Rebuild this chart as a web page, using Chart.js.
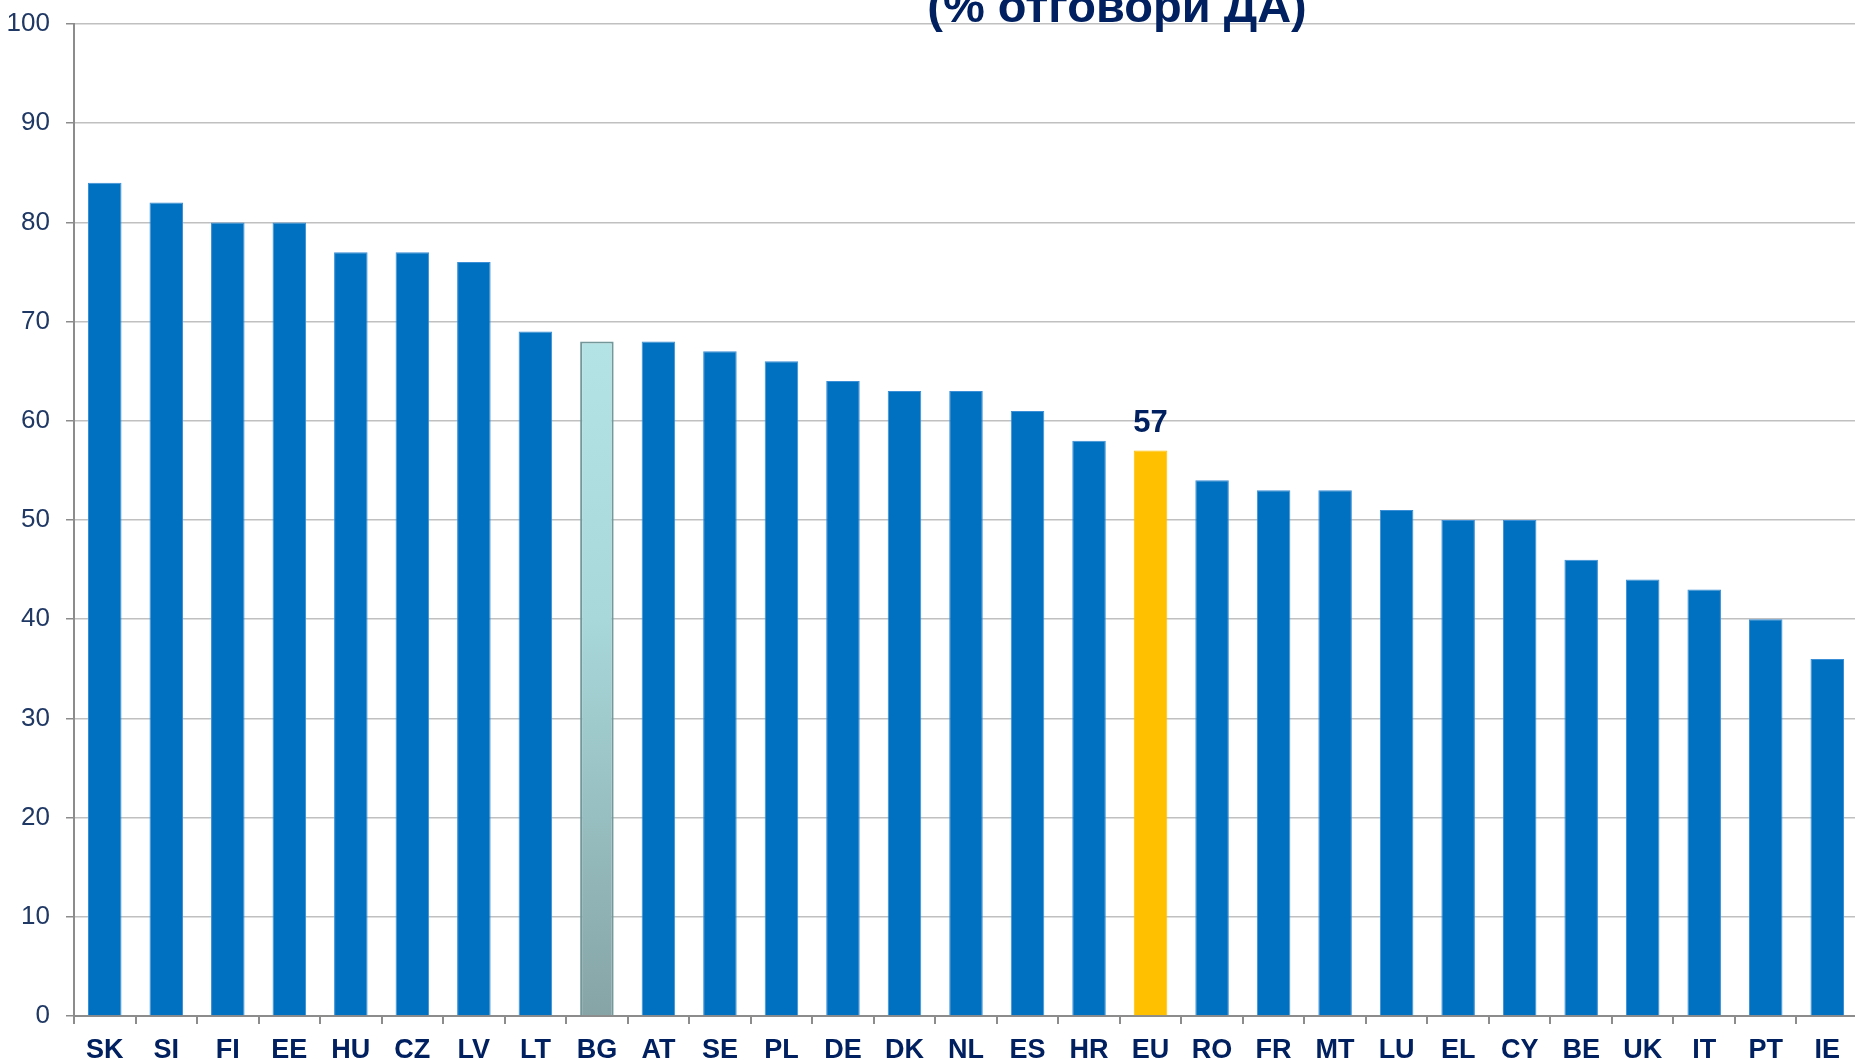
<!DOCTYPE html>
<html>
<head>
<meta charset="utf-8">
<script src="https://cdn.jsdelivr.net/npm/chart.js@4"></script>
<style>
    html, body { margin: 0; padding: 0; background: #fff; overflow: hidden; }
    #wrap { position: relative; width: 1858px; height: 1060px; }
</style>
</head>
<body>
<div id="wrap"><canvas id="barChart"></canvas></div>
<script>
/* global Chart */

const countries = ['SK', 'SI', 'FI', 'EE', 'HU', 'CZ', 'LV', 'LT', 'BG', 'AT', 'SE', 'PL', 'DE', 'DK', 'NL',
                   'ES', 'HR', 'EU', 'RO', 'FR', 'MT', 'LU', 'EL', 'CY', 'BE', 'UK', 'IT', 'PT', 'IE'];
const yesShare  = [84, 82, 80, 80, 77, 77, 76, 69, 68, 68, 67, 66, 64, 63, 63,
                   61, 58, 57, 54, 53, 53, 51, 50, 50, 46, 44, 43, 40, 36];
const yTicks    = [0, 10, 20, 30, 40, 50, 60, 70, 80, 90, 100];
const titleText = '(% отговори ДА)';
const labelled  = ['EU'];

const BLUE  = '#0070C0';
const GOLD  = '#FFC000';
const NAVY  = '#002060';
const FONT  = '"Liberation Sans", Arial, sans-serif';

function barFill(ctx) {
    const label = countries[ctx.dataIndex];
    if (label === 'EU') return GOLD;
    if (label === 'BG') {
        const area = ctx.chart.chartArea;
        if (!area) return '#a8d0d4';
        const g = ctx.chart.ctx.createLinearGradient(0, area.top, 0, area.bottom);
        g.addColorStop(0, '#c2f0f4');
        g.addColorStop(0.6, '#a8d8da');
        g.addColorStop(1, '#86a4a6');
        return g;
    }
    return BLUE;
}

function barBorder(ctx) {
    const label = countries[ctx.dataIndex];
    if (label === 'EU') return GOLD;
    if (label === 'BG') return '#74979a';
    return '#3a8fd6';
}

// title line (cut by the top edge) and the value label over EU
const overlay = {
    id: 'overlay',
    afterDatasetsDraw(chart) {
        const c = chart.ctx;
        c.save();
        c.fillStyle = NAVY;
        c.textAlign = 'center';
        c.textBaseline = 'alphabetic';
        c.font = 'bold 47px ' + FONT;
        c.fillText(titleText, 1117, 22);

        const meta = chart.getDatasetMeta(0);
        c.font = 'bold 31px ' + FONT;
        labelled.forEach(name => {
            const i = countries.indexOf(name);
            const bar = meta.data[i];
            c.fillText(String(yesShare[i]), bar.x, bar.y - 19);
        });
        c.restore();
    },
};

new Chart(document.getElementById('barChart').getContext('2d'), {
    type: 'bar',
    data: {
        labels: countries,
        datasets: [{
            data:               yesShare,
            backgroundColor:    barFill,
            borderColor:        barBorder,
            borderWidth:        ctx => countries[ctx.dataIndex] === 'BG' ? 2 : 1,
            borderSkipped:      'bottom',
            barPercentage:      0.545,
            categoryPercentage: 1,
        }],
    },
    options: {
        responsive:          true,
        maintainAspectRatio: false,
        animation:           false,
        layout:              { padding: { top: 24, left: 0, right: 0, bottom: 0 } },
        plugins:             { legend: { display: false }, tooltip: { enabled: false } },
        scales: {
            x: {
                grid:   { drawOnChartArea: false, tickLength: 8, tickColor: '#8c8c8c', lineWidth: 2 },
                border: { color: '#8c8c8c', width: 2 },
                ticks:  { color: NAVY, font: { family: FONT, size: 27, weight: 'bold' }, padding: 10,
                          maxRotation: 0, autoSkip: false },
                afterFit(scale) {
                    scale.height = 44;
                    scale.paddingLeft = 0;
                    scale.paddingRight = 0;
                },
            },
            y: {
                min: 0,
                max: 100,
                afterBuildTicks(scale) { scale.ticks = yTicks.map(v => ({ value: v })); },
                grid:   { color: '#c0c0c0', lineWidth: 1.5, tickLength: 8, tickColor: '#8c8c8c' },
                border: { color: '#8c8c8c', width: 2 },
                ticks:  { color: '#1F3864', font: { family: FONT, size: 26 }, padding: 16 },
                afterFit(scale) {
                    scale.width = 74;
                    scale.paddingTop = 0;
                    scale.paddingBottom = 0;
                },
            },
        },
    },
    plugins: [overlay],
});
</script>
</body>
</html>
